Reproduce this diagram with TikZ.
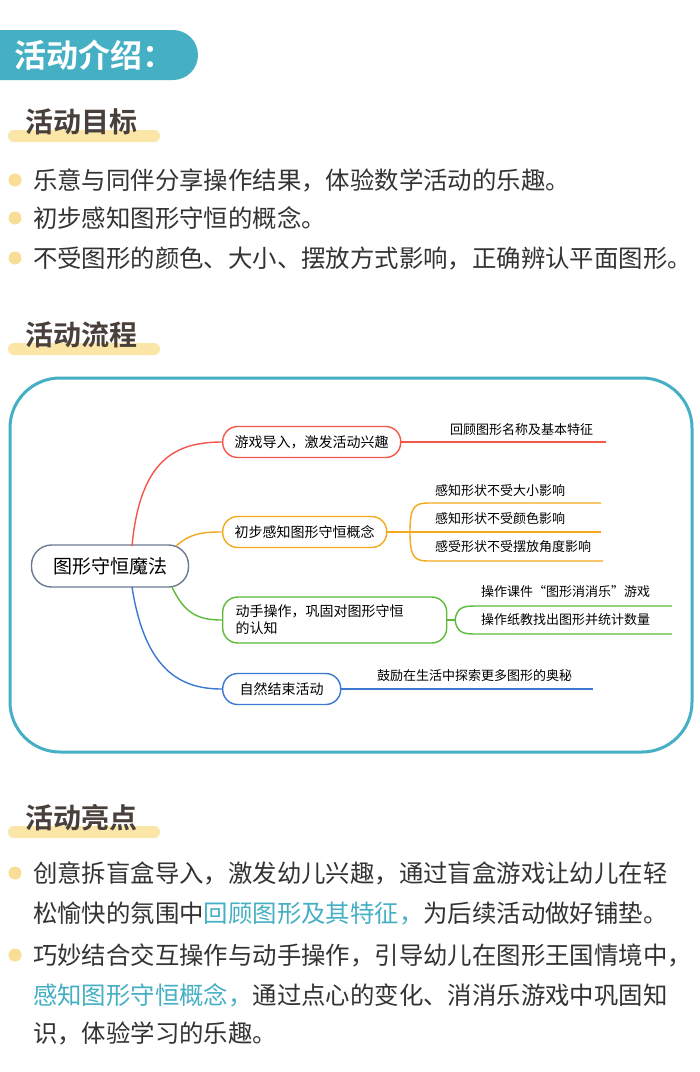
\documentclass[tikz,border=0pt]{standalone}
\usepackage{fontspec}
\setmainfont{Noto Sans CJK SC}
\newfontfamily\cjkb{Noto Sans CJK SC Bold}
\definecolor{teal1}{HTML}{45AFC4}
\definecolor{hl}{HTML}{FBE6A8}
\definecolor{dot}{HTML}{F9DE97}
\definecolor{txt}{HTML}{333333}
\definecolor{head}{HTML}{4A403B}
\definecolor{cR}{HTML}{F4574A}
\definecolor{cO}{HTML}{F5A81C}
\definecolor{cG}{HTML}{5DBB3A}
\definecolor{cB}{HTML}{3A78D4}
\definecolor{cC}{HTML}{6B7A8F}
\begin{document}
\begin{tikzpicture}[x=1pt,y=-1pt,
 body/.style={anchor=west,inner sep=0,text=txt,font=\fontsize{24.4}{28}\selectfont},
 sec/.style={anchor=west,inner sep=0,text=head,font=\cjkb\fontsize{28}{30}\selectfont},
 br/.style={draw=#1,line width=1.4pt,rounded corners=15pt,minimum height=31pt,inner xsep=12pt,anchor=west,text=black,font=\fontsize{14}{17}\selectfont},
 lf/.style={anchor=west,inner sep=0,text=black,font=\fontsize{13}{15}\selectfont},
 ln/.style={line width=1.4pt,#1}]
\useasboundingbox (0,0) rectangle (700,1072);
\fill[white] (0,0) rectangle (700,1072);
% header
\fill[teal1,rounded corners=25pt] (-30,30) rectangle (198,80);
\node[anchor=west,inner sep=0,text=white,font=\cjkb\fontsize{32}{34}\selectfont] (h) at (14,55) {活动介绍：};
% sec 1
\fill[hl,rounded corners=6pt] (8,130) rectangle (160,142);
\node[sec] (s1) at (25,122) {活动目标};
\foreach \y/\t [count=\i] in {180/乐意与同伴分享操作结果，体验数学活动的乐趣。,218/初步感知图形守恒的概念。,258/不受图形的颜色、大小、摆放方式影响，正确辨认平面图形。}{
 \fill[dot] (15,\y) circle (6.5);
 \node[body] (b\i) at (33,\y) {\t};
}
% sec 2
\fill[hl,rounded corners=6pt] (8,343) rectangle (160,355);
\node[sec] (s2) at (25,335) {活动流程};
\draw[teal1,line width=3pt,rounded corners=50pt] (10,378) rectangle (692,752);
% mind map
\node[draw=cC,line width=1.4pt,rounded corners=20pt,minimum width=157pt,minimum height=42pt,font=\fontsize{19}{21}\selectfont] (c) at (110,566) {图形守恒魔法};
\node[br=cR] (n1) at (222,442) {游戏导入，激发活动兴趣};
\node[br=cO] (n2) at (222,532) {初步感知图形守恒概念};
\node[br=cG,minimum height=46pt,align=left,text width=198pt,inner xsep=13pt] (n3) at (222,620) {动手操作，巩固对图形守恒\\的认知};
\node[br=cB,minimum width=118pt] (n4) at (222,689) {自然结束活动};
\draw[ln=cR] (132,546) .. controls (140,460) and (175,442) .. (n1.west);
\draw[ln=cO] (176,546) .. controls (190,534) and (200,532) .. (n2.west);
\draw[ln=cG] (172,587) .. controls (185,615) and (200,620) .. (n3.west);
\draw[ln=cB] (132,587) .. controls (145,670) and (180,689) .. (n4.west);
% leaves
\coordinate (e1) at (606,442);
\draw[ln=cR] (n1.east) -- (e1);
\node[lf] (l1) at (450,430) {回顾图形名称及基本特征};
\coordinate (k2) at (410,532);
\draw[ln=cO] (n2.east) -- (k2);
\draw[ln=cO] (k2) -- (601,532);
\draw[ln=cO] (k2) .. controls (410,505) and (415,503) .. (430,503) -- (601,503);
\draw[ln=cO] (k2) .. controls (410,559) and (415,561) .. (430,561) -- (603,561);
\node[lf] (l2) at (435,491) {感知形状不受大小影响};
\node[lf] (l3) at (435,519) {感知形状不受颜色影响};
\node[lf] (l4) at (435,547) {感受形状不受摆放角度影响};
\coordinate (k3) at (455,620);
\draw[ln=cG] (n3.east) -- (k3);
\draw[ln=cG] (k3) .. controls (457,608) and (462,606) .. (475,606) -- (672,606);
\draw[ln=cG] (k3) .. controls (457,632) and (462,634) .. (475,634) -- (672,634);
\node[lf] (l5) at (481,592) {操作课件“图形消消乐”游戏};
\node[lf] (l6) at (481,620) {操作纸教找出图形并统计数量};
\coordinate (e4) at (593,689);
\draw[ln=cB] (n4.east) -- (e4);
\node[lf] (l7) at (377,676) {鼓励在生活中探索更多图形的奥秘};
% sec 3
\fill[hl,rounded corners=6pt] (8,826) rectangle (160,838);
\node[sec] (s3) at (25,818) {活动亮点};
\fill[dot] (15,873) circle (6.5);
\fill[dot] (15,955) circle (6.5);
\node[body] (p1) at (33,873) {创意拆盲盒导入，激发幼儿兴趣，通过盲盒游戏让幼儿在轻};
\node[body] (p2) at (33,913) {松愉快的氛围中\textcolor{teal1}{回顾图形及其特征，}为后续活动做好铺垫。};
\node[body] (p3) at (33,955) {巧妙结合交互操作与动手操作，引导幼儿在图形王国情境中，};
\node[body] (p4) at (33,995) {\textcolor{teal1}{感知图形守恒概念，}通过点心的变化、消消乐游戏中巩固知};
\node[body] (p5) at (33,1033) {识，体验学习的乐趣。};
\end{tikzpicture}
\end{document}
